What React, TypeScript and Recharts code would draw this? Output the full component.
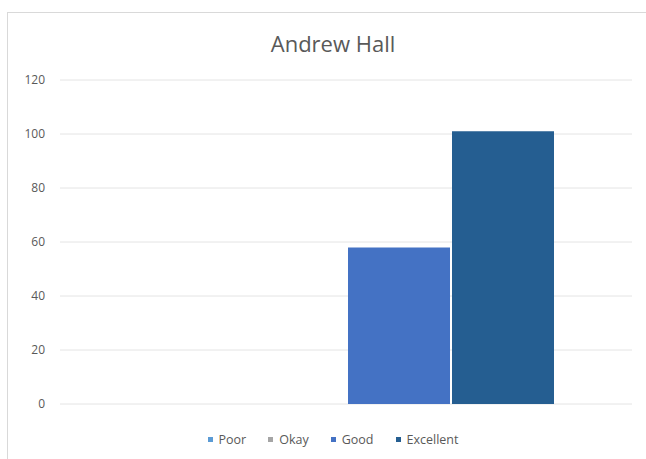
import { BarChart, Bar, YAxis, XAxis, CartesianGrid, Legend } from "recharts";

const categories = ["Andrew Hall"];
const seriesNames = ["Poor", "Okay", "Good", "Excellent"];
const seriesValues = [0, 0, 58, 101];
const seriesColors = ["#5B9BD5", "#A5A5A5", "#4472C4", "#255E91"];
const yTicks = [0, 20, 40, 60, 80, 100, 120];

const data = categories.map((name) => {
  const row: Record<string, string | number> = { name };
  seriesNames.forEach((s, i) => {
    row[s] = seriesValues[i];
  });
  return row;
});

const font = "'Open Sans', 'Liberation Sans', sans-serif";

function LegendContent() {
  return (
    <div
      style={{
        display: "flex",
        justifyContent: "center",
        alignItems: "center",
        height: 30,
        gap: 22,
        paddingLeft: 20,
        fontFamily: font,
        fontSize: 12.5,
        color: "#595959",
      }}
    >
      {seriesNames.map((s, i) => (
        <div key={s} style={{ display: "flex", alignItems: "center", gap: 6 }}>
          <span style={{ width: 5, height: 5, background: seriesColors[i], display: "inline-block" }} />
          <span>{s}</span>
        </div>
      ))}
    </div>
  );
}

export default function App() {
  return (
    <div style={{ position: "absolute", left: 0, top: 0, width: 646, height: 459, overflow: "hidden", background: "#fff" }}>
      <div
        style={{
          position: "absolute",
          left: 7,
          top: 12,
          width: 660,
          height: 470,
          border: "1px solid #d9d9d9",
        }}
      />
      <div
        style={{
          position: "absolute",
          left: 0,
          top: 28,
          width: 666,
          textAlign: "center",
          fontFamily: font,
          fontSize: 22,
          color: "#595959",
        }}
      >
        Andrew Hall
      </div>
      <BarChart
        width={646}
        height={459}
        data={data}
        margin={{ top: 80, right: 14, bottom: 20, left: 0 }}
        barCategoryGap={80}
        barGap={2}
        style={{ position: "absolute", left: 0, top: 0 }}
      >
        <CartesianGrid vertical={false} stroke="#e4e4e4" />
        <XAxis dataKey="name" hide />
        <YAxis
          width={60}
          domain={[0, 120]}
          ticks={yTicks}
          axisLine={false}
          tickLine={false}
          tickMargin={9}
          tick={{ fontSize: 12, fill: "#595959", fontFamily: font }}
        />
        <Legend
          verticalAlign="bottom"
          content={<LegendContent />}
          wrapperStyle={{ height: 35, bottom: 0, left: 0, width: 646 }}
        />
        {seriesNames.map((s, i) => (
          <Bar key={s} dataKey={s} fill={seriesColors[i]} isAnimationActive={false} />
        ))}
      </BarChart>
    </div>
  );
}
